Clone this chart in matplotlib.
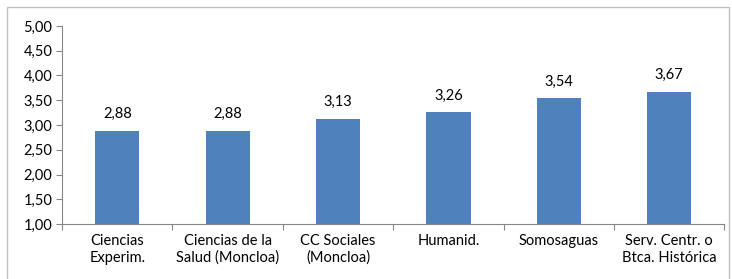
import matplotlib.pyplot as plt
from matplotlib.patches import Rectangle
import numpy as np

categories = ["Ciencias\nExperim.", "Ciencias de la\nSalud (Moncloa)", "CC Sociales\n(Moncloa)",
              "Humanid.", "Somosaguas", "Serv. Centr. o\nBtca. Histórica"]
values = [2.88, 2.88, 3.13, 3.26, 3.54, 3.67]
yticks = [1.0, 1.5, 2.0, 2.5, 3.0, 3.5, 4.0, 4.5, 5.0]

plt.rcParams["font.family"] = ["Lato", "DejaVu Sans"]

fig = plt.figure(figsize=(7.32, 2.79), dpi=100)
ax = fig.add_axes([0.0847, 0.197, 0.905, 0.710])

# figure border
fig.patches.append(Rectangle((7 / 732, -0.05), 722 / 732, 1.05 - 7 / 279, transform=fig.transFigure,
                             fill=False, edgecolor="#bfbfbf", linewidth=1))

x = np.arange(len(categories))
ax.bar(x, values, width=0.40, color="#4f81bd", bottom=0)
ax.set_ylim(1, 5)
ax.set_xlim(-0.5, len(categories) - 0.5)
ax.set_yticks(yticks)
ax.set_yticklabels([f"{v:.2f}".replace(".", ",") for v in yticks], fontsize=10.5)

for xi, v in zip(x, values):
    ax.annotate(f"{v:.2f}".replace(".", ","), (xi, v), xytext=(0, 7), textcoords="offset points",
                ha="center", va="bottom", fontsize=10.5)

# category ticks between bars
ax.set_xticks(np.arange(-0.5, len(categories) + 0.5, 1))
ax.set_xticklabels([])
ax.set_xticks(x, minor=True)
ax.set_xticklabels(categories, minor=True, fontsize=10.5, linespacing=1.25)
ax.tick_params(axis="x", which="minor", length=0, pad=7)
ax.tick_params(axis="x", which="major", length=4, color="#868686")
ax.tick_params(axis="y", length=4, color="#868686", pad=3)

for side in ["top", "right"]:
    ax.spines[side].set_visible(False)
for side in ["left", "bottom"]:
    ax.spines[side].set_color("#868686")

fig.savefig("out.png", dpi=100)
